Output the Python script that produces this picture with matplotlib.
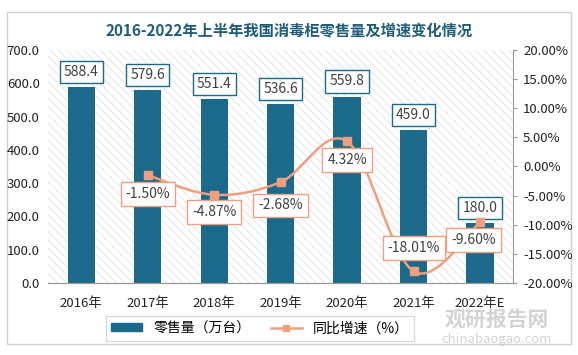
import matplotlib.pyplot as plt
from matplotlib.patches import Rectangle, PathPatch
from matplotlib.path import Path
from matplotlib.lines import Line2D

plt.rcParams['font.family'] = ['Noto Sans CJK SC', 'DejaVu Sans']
plt.rcParams['hatch.linewidth'] = 0.5

years = ['2016年', '2017年', '2018年', '2019年', '2020年', '2021年', '2022年E']
sales = [588.4, 579.6, 551.4, 536.6, 559.8, 459.0, 180.0]
growth = [None, -1.50, -4.87, -2.68, 4.32, -18.01, -9.60]

bar_color = '#1B6A8C'
line_color = '#EE9F7F'

fig = plt.figure(figsize=(5.78, 3.55), dpi=100)
fig.patches.append(Rectangle((0.012, 0.03), 0.976, 0.935, transform=fig.transFigure,
                             facecolor='white', edgecolor='#d0d0d0', lw=1.0, zorder=-1))
ax = fig.add_axes([0.083, 0.203, 0.805, 0.656])
ax2 = ax.twinx()

x = list(range(len(years)))
ax.set_xlim(-0.5, len(years) - 0.5)
ax.set_ylim(0, 700)
ax2.set_ylim(-20, 20)

# hatched background
ax.add_patch(Rectangle((0, 0), 1, 1, transform=ax.transAxes, facecolor='white',
                       edgecolor='#dddddd', hatch='\\\\\\\\', lw=0, zorder=0))

ax.bar(x, sales, width=0.41, color=bar_color, zorder=2)
for xi, v in zip(x, sales):
    ax.text(xi, v + 46, f'{v:.1f}', ha='center', va='center', fontsize=10, color='#404040',
            zorder=5, bbox=dict(boxstyle='square,pad=0.3', fc='white', ec=bar_color, lw=1))

# smoothed growth line (bezier through data points)
gx = [xi for xi, g in zip(x, growth) if g is not None]
gy = [g for g in growth if g is not None]
verts = [(gx[0], gy[0])]
codes = [Path.MOVETO]
t = 0.17
for i in range(len(gx) - 1):
    p0 = (gx[max(i - 1, 0)], gy[max(i - 1, 0)])
    p1 = (gx[i], gy[i])
    p2 = (gx[i + 1], gy[i + 1])
    p3 = (gx[min(i + 2, len(gx) - 1)], gy[min(i + 2, len(gx) - 1)])
    c1 = (p1[0] + (p2[0] - p0[0]) * t, p1[1] + (p2[1] - p0[1]) * t)
    c2 = (p2[0] - (p3[0] - p1[0]) * t, p2[1] - (p3[1] - p1[1]) * t)
    verts += [c1, c2, p2]
    codes += [Path.CURVE4] * 3
ax2.add_patch(PathPatch(Path(verts, codes), fc='none', ec=line_color, lw=1.8, zorder=3))
ax2.plot(gx, gy, ls='none', marker='s', ms=6, color=line_color, zorder=4)

offsets = {1: (0, -3.2), 2: (0, -3.0), 3: (0, -4.0), 4: (0, -3.2), 5: (0, 4.0), 6: (-0.1, -3.0)}
for xi, g in zip(gx, gy):
    dx, dy = offsets[xi]
    ax2.text(xi + dx, g + dy, f'{g:.2f}%', ha='center', va='center', fontsize=10, color='#404040',
             zorder=6, bbox=dict(boxstyle='square,pad=0.35', fc='white', ec=line_color, lw=1))

ax.set_xticks(x)
ax.set_xticklabels(years, fontsize=9.5, color='#222222')
ax.set_yticks(range(0, 701, 100))
ax.set_yticklabels([f'{v:.1f}' for v in range(0, 701, 100)], fontsize=9.5, color='#222222')
ax2.set_yticks(range(-20, 21, 5))
ax2.set_yticklabels([f'{v:.2f}%' for v in range(-20, 21, 5)], fontsize=9.5, color='#222222')
ax.tick_params(length=0, pad=6)
ax2.tick_params(length=3, color='#999999', pad=4)
ax.tick_params(axis='x', pad=10)
for a in (ax, ax2):
    for s in ('top', 'left'):
        a.spines[s].set_visible(False)
    a.spines['right'].set_visible(False)
    a.spines['bottom'].set_color('#999999')
ax2.spines['right'].set_visible(True)
ax2.spines['right'].set_color('#999999')

fig.text(0.5, 0.915, '2016-2022年上半年我国消毒柜零售量及增速变化情况', ha='center', va='center',
         fontsize=11, fontweight='bold', color='#1F5C78')

handles = [Rectangle((0, 0), 1, 1, color=bar_color),
           Line2D([], [], color=line_color, lw=1.8, marker='s', ms=5)]
leg = fig.legend(handles, ['零售量（万台）', '同比增速（%）'], loc='center',
                 bbox_to_anchor=(0.45, 0.075), ncol=2, frameon=True, fancybox=False,
                 fontsize=10, handlelength=2.2, handleheight=0.5, columnspacing=1.5,
                 borderpad=0.4, edgecolor='#cccccc')
leg.get_frame().set_linewidth(0.8)

fig.text(0.86, 0.1, '观研报告网', ha='center', va='center', fontsize=15, fontweight='bold',
         color='#c8c8c8', alpha=0.8)
fig.text(0.86, 0.045, 'chinabaogao.com', ha='center', va='center', fontsize=9.5,
         color='#c8c8c8', alpha=0.8)

fig.savefig('out.png', dpi=100)
